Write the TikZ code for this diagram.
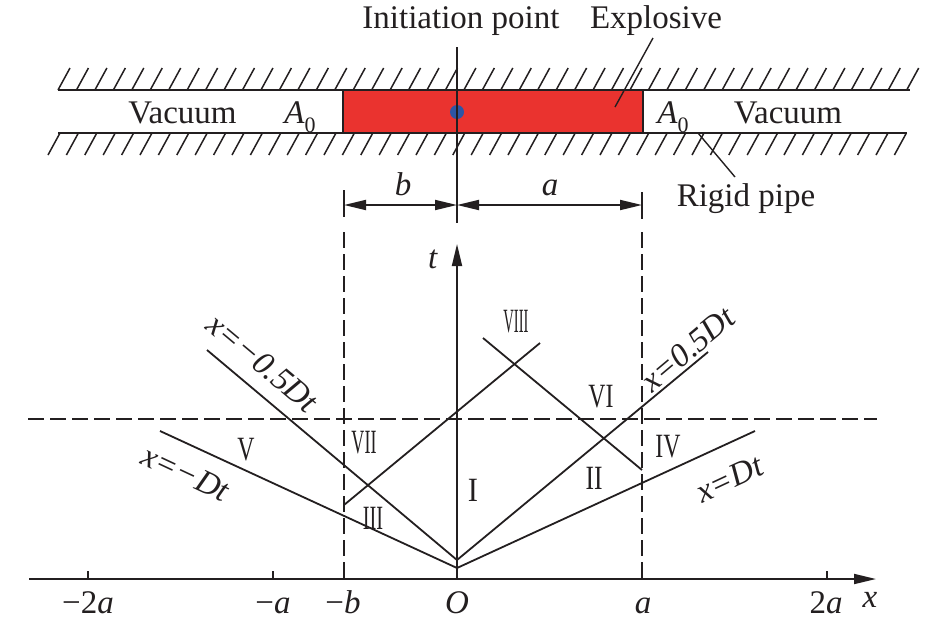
\documentclass[tikz,border=0pt]{standalone}
\usepackage{fontspec}
\usepackage{graphicx}
\setmainfont{Liberation Serif}
\usetikzlibrary{arrows.meta}
\definecolor{ink}{RGB}{35,31,32}
\definecolor{expl}{RGB}{234,51,47}
\definecolor{dot}{RGB}{45,85,165}
\begin{document}
\begin{tikzpicture}[x=1pt,y=-1pt]
\tikzset{
  ln/.style={line width=1.8pt, draw=ink},
  hatch/.style={line width=1.5pt, draw=ink},
  dsh/.style={ln, dash pattern=on 16pt off 6pt},
  lbl/.style={font=\fontsize{33}{38}\selectfont, inner sep=0pt, text=ink},
  rn/.style={font=\fontsize{34}{38}\selectfont, inner sep=0pt, text=ink},
  dimarrow/.style={ln, {Triangle[length=22pt,width=10pt]}-{Triangle[length=22pt,width=10pt]}},
  axarrow/.style={ln, -{Triangle[length=22pt,width=10pt]}}
}
\useasboundingbox (0,0) rectangle (945,625);

% ---------------- pipe ----------------
\fill[expl] (343,90) rectangle (643,133);
\draw[line width=1.4pt, draw=ink] (343,90) rectangle (643,133);
\coordinate (twl) at (58,90);  \coordinate (twr) at (910,90);
\coordinate (bwl) at (58,133); \coordinate (bwr) at (907,133);
\draw[ln] (twl) -- (twr);
\draw[ln] (bwl) -- (bwr);
\foreach \i in {0,...,46}{
  \draw[hatch] ({58+18.45*\i},90) -- ++(12,-22);
  \draw[hatch] ({60+18.4*\i},133) -- ++(-12,22);
}
\fill[dot] (457,112) circle (7);
\coordinate (vt) at (457,47); \coordinate (vb) at (457,223);
\draw[ln] (vt) -- (vb);

% labels of pipe
\node[lbl, anchor=base] (init) at (461,28) {Initiation point};
\node[lbl, anchor=base] (explo) at (656,28) {Explosive};
\node[lbl, anchor=base] (vacl) at (182.5,123) {Vacuum};
\node[lbl, anchor=base] (vacr) at (788,123) {Vacuum};
\node[lbl, anchor=base] (al) at (300,123) {\textit{A}\raisebox{-0.28em}{\fontsize{22}{22}\selectfont 0}};
\node[lbl, anchor=base] (ar) at (673,123) {\textit{A}\raisebox{-0.28em}{\fontsize{22}{22}\selectfont 0}};
\node[lbl, anchor=base] (rigid) at (746,206) {Rigid pipe};
\coordinate (exs) at (653,38); \coordinate (exe) at (615,107);
\draw[line width=1.4pt, draw=ink] (exs) -- (exe);
\coordinate (rps) at (735,177); \coordinate (rpe) at (698,133);
\draw[line width=1.4pt, draw=ink] (rps) -- (rpe);

% dimension
\coordinate (dl) at (344,205); \coordinate (dm) at (457,205); \coordinate (dr) at (642,205);
\draw[ln] (344,190) -- (344,217);
\draw[ln] (642,192) -- (642,219);
\draw[dimarrow] (dl) -- (dm);
\draw[dimarrow] (dm) -- (dr);
\node[lbl, anchor=base] (lb) at (403,195) {\textit{b}};
\node[lbl, anchor=base] (la) at (550,195) {\textit{a}};

% ---------------- x-t diagram ----------------
\coordinate (xs) at (29,579); \coordinate (xe) at (876,579);
\coordinate (O) at (457,579); \coordinate (te) at (457,244);
\draw[axarrow] (xs) -- (xe);
\draw[axarrow] (O) -- (te);
\foreach \xx in {88,273,827}{ \draw[ln] (\xx,579) -- (\xx,571); }

\draw[dsh] (344,232) -- (344,579);
\draw[dsh] (642,232) -- (642,579);
\draw[dsh] (28,419) -- (877,419);

\coordinate (O1) at (457,568); \coordinate (O2) at (457,560);
\coordinate (L1) at (160,431); \coordinate (R1) at (755,431);
\coordinate (L2) at (207,350); \coordinate (R2) at (708,352);
\coordinate (P1) at (344,505); \coordinate (P2) at (540,343);
\coordinate (Q1) at (642,470); \coordinate (Q2) at (483,338);
\draw[ln] (O1) -- (L1);
\draw[ln] (O1) -- (R1);
\draw[ln] (O2) -- (L2);
\draw[ln] (O2) -- (R2);
\draw[ln] (P1) -- (P2);
\draw[ln] (Q1) -- (Q2);

% line labels
\node[lbl, rotate=-40] (lm05) at (263,363) {\textit{x=−0.5Dt}};
\node[lbl, rotate=-25] (lm1) at (186,473) {\textit{x=−Dt}};
\node[lbl, rotate=40] (lp05) at (688,349) {\textit{x=0.5Dt}};
\node[lbl, rotate=25] (lp1) at (730,479) {\textit{x=Dt}};

% region numerals
\node[rn] (r1) at (473,490) {\scalebox{0.9}[1]{I}};
\node[rn] (r2) at (594,478) {\scalebox{0.75}[1]{II}};
\node[rn] (r3) at (373,518) {\scalebox{0.6}[1]{III}};
\node[rn] (r4) at (668,447) {\scalebox{0.7}[1]{IV}};
\node[rn] (r5) at (246,450) {\scalebox{0.7}[1]{V}};
\node[rn] (r6) at (601,397) {\scalebox{0.7}[1]{VI}};
\node[rn] (r7) at (364,443) {\scalebox{0.53}[1]{VII}};
\node[rn] (r8) at (516,322) {\scalebox{0.43}[1]{VIII}};

% axis labels
\node[lbl, anchor=base] (tm2a) at (88,613) {−2\textit{a}};
\node[lbl, anchor=base] (tma) at (273,613) {−\textit{a}};
\node[lbl, anchor=base] (tmb) at (343,613) {−\textit{b}};
\node[lbl, anchor=base] (to) at (457,613) {\textit{O}};
\node[lbl, anchor=base] (ta) at (643,613) {\textit{a}};
\node[lbl, anchor=base] (t2a) at (826,613) {2\textit{a}};
\node[lbl, anchor=base] (xl) at (870,607) {\textit{x}};
\node[lbl, anchor=base] (tl) at (433,268) {\textit{t}};
\end{tikzpicture}
\end{document}
